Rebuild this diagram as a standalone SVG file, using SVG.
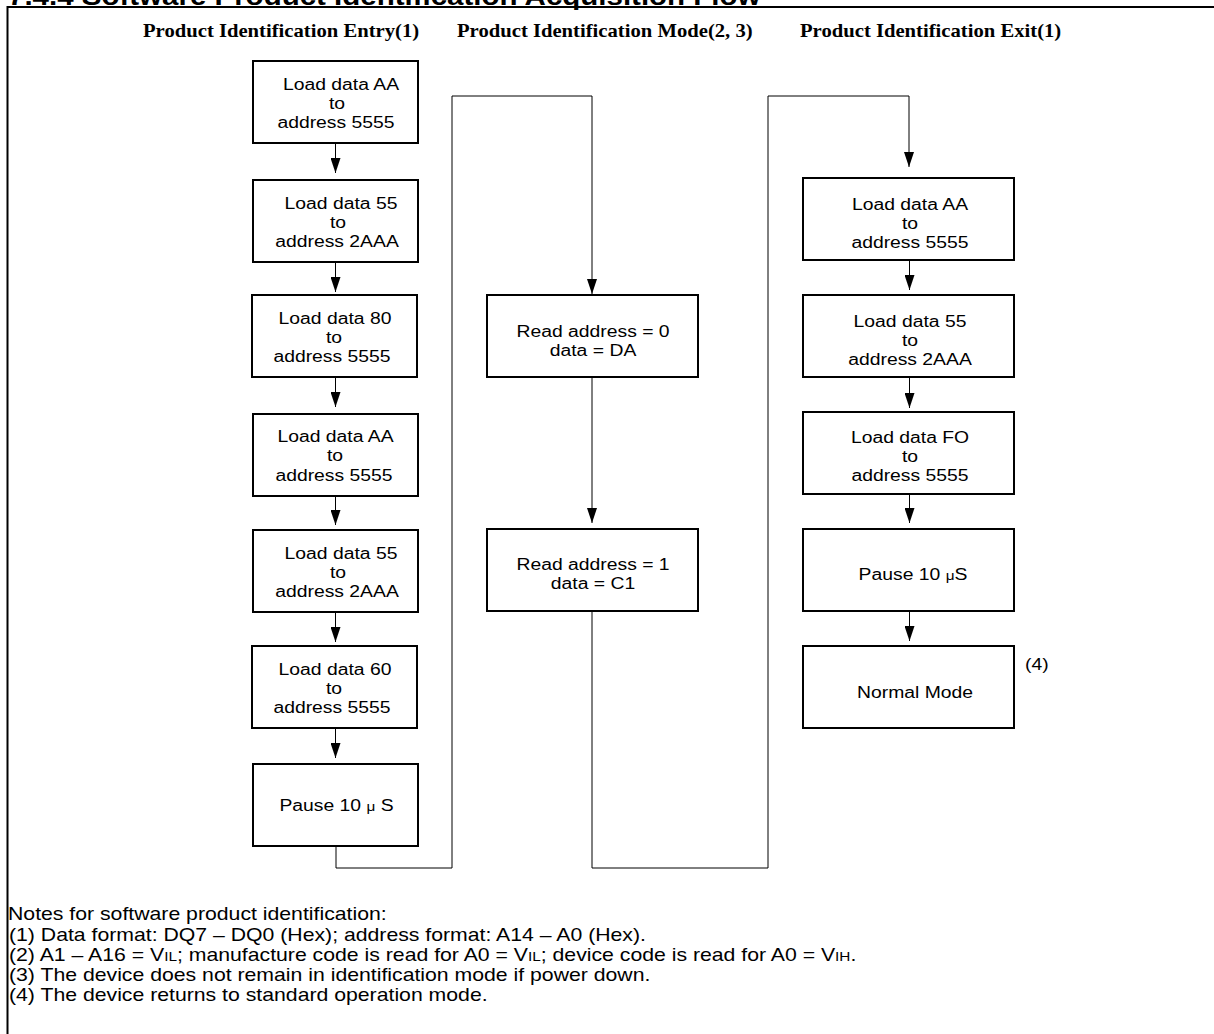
<svg xmlns="http://www.w3.org/2000/svg" width="1214" height="1034" viewBox="0 0 1214 1034">
<style>
.box{fill:#fff;stroke:#000;stroke-width:2}
.t{font-family:"Liberation Sans",Arial,sans-serif;font-size:16.4px;text-anchor:middle;fill:#000}
.mu{font-size:13px}
.hd{font-family:"Liberation Serif","Times New Roman",serif;font-weight:bold;font-size:19.5px;fill:#000}
.top{font-family:"Liberation Sans",Arial,sans-serif;font-weight:bold;font-size:25px;fill:#000}
.note{font-family:"Liberation Sans",Arial,sans-serif;font-size:18px;fill:#000}
.sm{font-size:13px}
.c{fill:none;stroke:#000;stroke-width:1}
.a{fill:none;stroke:#000;stroke-width:1;marker-end:url(#ah)}
.frame{fill:none;stroke:#000;stroke-width:2}
</style>
<defs>
<marker id="ah" markerUnits="userSpaceOnUse" markerWidth="10" markerHeight="15" refX="5" refY="15" orient="0" viewBox="0 0 10 15">
<path d="M0,0 L10,0 L5,15 Z" fill="#000"/>
</marker>
</defs>
<rect width="1214" height="1034" fill="#fff"/>
<g id="frame">
<path class="frame" d="M7.5,1034 V7 H1214"/>
<text class="top" transform="translate(8,5) scale(1.18 1)">7.4.4 Software Product Identification Acquisition Flow</text>
</g>
<g id="headings">
<text class="hd" transform="translate(143,37) scale(1.06 1)">Product Identification Entry(1)</text>
<text class="hd" transform="translate(457,37) scale(1.06 1)">Product Identification Mode(2, 3)</text>
<text class="hd" transform="translate(800,37) scale(1.06 1)">Product Identification Exit(1)</text>
</g>
<g id="connectors">
<path class="c" d="M336,846 V868 H452 V96 H592 V290"/>
<path class="a" d="M592,290 V294"/>
<path class="a" d="M592,377 V523"/>
<path class="c" d="M592,611 V868 H768 V96 H909 V160"/>
<path class="a" d="M909,160 V167"/>
<path class="a" d="M335.5,143 V173"/>
<path class="a" d="M335.5,262 V292"/>
<path class="a" d="M335.5,377 V407"/>
<path class="a" d="M335.5,496 V525"/>
<path class="a" d="M335.5,612 V642"/>
<path class="a" d="M335.5,728 V758"/>
<path class="a" d="M909.5,260 V290"/>
<path class="a" d="M909.5,377 V408"/>
<path class="a" d="M909.5,494 V523"/>
<path class="a" d="M909.5,611 V641"/>
</g>
<g id="L1"><rect class="box" x="253" y="61" width="165" height="82"/>
<text class="t" transform="translate(341,90) scale(1.18 1)">Load data AA</text>
<text class="t" transform="translate(337,109) scale(1.18 1)">to</text>
<text class="t" transform="translate(336,128) scale(1.18 1)">address 5555</text></g>
<g id="L2"><rect class="box" x="253" y="180" width="165" height="82"/>
<text class="t" transform="translate(341,209) scale(1.18 1)">Load data 55</text>
<text class="t" transform="translate(338,228) scale(1.18 1)">to</text>
<text class="t" transform="translate(337,247) scale(1.18 1)">address 2AAA</text></g>
<g id="L3"><rect class="box" x="252" y="295" width="165" height="82"/>
<text class="t" transform="translate(335,324) scale(1.18 1)">Load data 80</text>
<text class="t" transform="translate(334,343) scale(1.18 1)">to</text>
<text class="t" transform="translate(332,362) scale(1.18 1)">address 5555</text></g>
<g id="L4"><rect class="box" x="253" y="414" width="165" height="82"/>
<text class="t" transform="translate(335.5,442) scale(1.18 1)">Load data AA</text>
<text class="t" transform="translate(335,461) scale(1.18 1)">to</text>
<text class="t" transform="translate(334,481) scale(1.18 1)">address 5555</text></g>
<g id="L5"><rect class="box" x="253" y="530" width="165" height="82"/>
<text class="t" transform="translate(341,559) scale(1.18 1)">Load data 55</text>
<text class="t" transform="translate(338,578) scale(1.18 1)">to</text>
<text class="t" transform="translate(337,597) scale(1.18 1)">address 2AAA</text></g>
<g id="L6"><rect class="box" x="252" y="646" width="165" height="82"/>
<text class="t" transform="translate(335,675) scale(1.18 1)">Load data 60</text>
<text class="t" transform="translate(334,694) scale(1.18 1)">to</text>
<text class="t" transform="translate(332,713) scale(1.18 1)">address 5555</text></g>
<g id="L7"><rect class="box" x="253" y="764" width="165" height="82"/>
<text class="t" transform="translate(336.5,811) scale(1.18 1)">Pause 10 <tspan class="mu">μ</tspan> S</text></g>
<g id="M1"><rect class="box" x="487" y="295" width="211" height="82"/>
<text class="t" transform="translate(593,337) scale(1.18 1)">Read address = 0</text>
<text class="t" transform="translate(593,356) scale(1.18 1)">data = DA</text></g>
<g id="M2"><rect class="box" x="487" y="529" width="211" height="82"/>
<text class="t" transform="translate(593,570) scale(1.18 1)">Read address = 1</text>
<text class="t" transform="translate(593,589) scale(1.18 1)">data = C1</text></g>
<g id="R1"><rect class="box" x="803" y="178" width="211" height="82"/>
<text class="t" transform="translate(910,210) scale(1.18 1)">Load data AA</text>
<text class="t" transform="translate(910,229) scale(1.18 1)">to</text>
<text class="t" transform="translate(910,248) scale(1.18 1)">address 5555</text></g>
<g id="R2"><rect class="box" x="803" y="295" width="211" height="82"/>
<text class="t" transform="translate(910,327) scale(1.18 1)">Load data 55</text>
<text class="t" transform="translate(910,346) scale(1.18 1)">to</text>
<text class="t" transform="translate(910,365) scale(1.18 1)">address 2AAA</text></g>
<g id="R3"><rect class="box" x="803" y="412" width="211" height="82"/>
<text class="t" transform="translate(910,443) scale(1.18 1)">Load data FO</text>
<text class="t" transform="translate(910,462) scale(1.18 1)">to</text>
<text class="t" transform="translate(910,481) scale(1.18 1)">address 5555</text></g>
<g id="R4"><rect class="box" x="803" y="529" width="211" height="82"/>
<text class="t" transform="translate(913,580) scale(1.18 1)">Pause 10 <tspan class="mu">μ</tspan>S</text></g>
<g id="R5"><rect class="box" x="803" y="646" width="211" height="82"/>
<text class="t" transform="translate(915,698) scale(1.18 1)">Normal Mode</text>
<text class="t" style="text-anchor:start" transform="translate(1025,670) scale(1.18 1)">(4)</text></g>
<g id="notes">
<text class="note" transform="translate(8,920) scale(1.18 1)">Notes for software product identification:</text>
<text class="note" transform="translate(9,941) scale(1.18 1)">(1) Data format: DQ7 – DQ0 (Hex); address format: A14 – A0 (Hex).</text>
<text class="note" transform="translate(9,961) scale(1.18 1)">(2) A1 – A16 = V<tspan class="sm">IL</tspan>; manufacture code is read for A0 = V<tspan class="sm">IL</tspan>; device code is read for A0 = V<tspan class="sm">IH</tspan>.</text>
<text class="note" transform="translate(9,981) scale(1.18 1)">(3) The device does not remain in identification mode if power down.</text>
<text class="note" transform="translate(9,1001) scale(1.18 1)">(4) The device returns to standard operation mode.</text>
</g>
</svg>
